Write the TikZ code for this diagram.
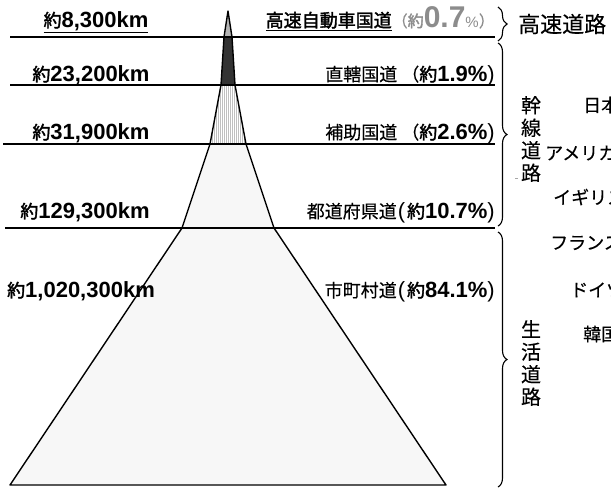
\documentclass[tikz,border=0pt]{standalone}
\usepackage{fontspec}
\setmainfont{Noto Sans CJK JP}
\newfontfamily\jp{Noto Sans CJK JP}[FakeBold=0.3]
\newfontfamily\jpb{Noto Sans CJK JP}[FakeBold=2]
\newfontfamily\num{Liberation Sans}
\usetikzlibrary{decorations.pathreplacing}
\definecolor{segA}{HTML}{B4B4B4}
\definecolor{segB}{HTML}{333333}
\definecolor{segC}{HTML}{F7F7F7}
\definecolor{txtgray}{HTML}{8C8C8C}
\newcommand\jfs{\fontsize{18}{20}\selectfont}
\newcommand\nfs{\fontsize{22}{23}\selectfont}
\newcommand\km[1]{{\jpb 約}{\num\bfseries\nfs #1km}}
\newcommand\pct[1]{{\jpb 約}{\num\bfseries\nfs #1\%}}
\begin{document}
\begin{tikzpicture}[x=1pt,y=-1pt,
  hline/.style={line width=1.7pt},
  tri/.style={draw=black,line width=1.4pt,line join=round},
  lab/.style={inner sep=0pt,font=\jp\jfs},
  bracebox/.style={decorate,decoration={brace,amplitude=9pt},line width=1.1pt},
  vtext/.style={inner sep=0pt,font=\jp\fontsize{20}{22.5}\selectfont,align=center}]
\useasboundingbox (0,0) rectangle (611,491);
\clip (0,0) rectangle (611,491);
% pyramid fills
\fill[segC] (182,228) -- (274,228) -- (446,485) -- (10,485) -- cycle;
\fill[segC] (210,144) -- (246,144) -- (274,228) -- (182,228) -- cycle;
\fill[white] (221,85) -- (235,85) -- (246,144) -- (210,144) -- cycle;
\begin{scope}
  \clip (221,85) -- (235,85) -- (246,144) -- (210,144) -- cycle;
  \foreach \x in {200,202,...,256} \draw[gray!50,line width=0.35pt] (\x,85) -- (\x,144);
\end{scope}
\fill[segB] (224,37) -- (232,37) -- (235,85) -- (221,85) -- cycle;
\fill[segA] (228,11) -- (232,37) -- (224,37) -- cycle;
% horizontal lines
\draw[hline] (10,37) -- (495,37);
\draw[hline] (10,85) -- (495,85);
\draw[hline] (3,144) -- (495,144);
\draw[hline] (5,228) -- (495,228);
% pyramid outline
\draw[tri] (228,11) -- (232,37) -- (235,85) -- (246,144) -- (274,228) -- (446,485)
  -- (10,485) -- (182,228) -- (210,144) -- (221,85) -- (224,37) -- cycle;
\draw[tri] (210,144) -- (246,144);
\draw[tri] (182,228) -- (274,228);
% left labels
\node[lab,anchor=base] (l1) at (96,27) {\underline{\km{8,300}}};
\node[lab,anchor=base] (l2) at (91,81) {\km{23,200}};
\node[lab,anchor=base] (l3) at (91,139) {\km{31,900}};
\node[lab,anchor=base] (l4) at (85,218) {\km{129,300}};
\node[lab,anchor=base west] (l5) at (7,297) {\km{1,020,300}};
% right labels
\node[lab,anchor=base east] (r1) at (495,27) {\underline{\jpb 高速自動車国道}{\color{txtgray}{\fontsize{16}{16}\selectfont（\jpb 約}{\num\bfseries\fontsize{30}{30}\selectfont 0.7}{\num\fontsize{15}{15}\selectfont\%}{\fontsize{16}{16}\selectfont ）}}};
\node[lab,anchor=base east] (r2) at (495,81) {直轄国道 （\pct{1.9}{\num\nfs)}};
\node[lab,anchor=base east] (r3) at (495,139) {補助国道 （\pct{2.6}{\num\nfs)}};
\node[lab,anchor=base east] (r4) at (495,218) {都道府県道{\num\nfs\hspace{1pt}(\hspace{2pt}}\pct{10.7}{\num\nfs)}};
\node[lab,anchor=base east] (r5) at (495,297) {市町村道{\num\nfs\hspace{1pt}(\hspace{2pt}}\pct{84.1}{\num\nfs)}};
% braces
\draw[bracebox] (498,7) -- (498,41);
\draw[bracebox] (498,43) -- (498,226);
\draw[bracebox] (498,232) -- (498,487);
\node[inner sep=0pt,anchor=west,font=\jp\fontsize{22}{24}\selectfont] (hw) at (518,24) {高速道路};
\node[vtext] (kansen) at (531,139) {幹\\線\\道\\路};
\node[vtext] (seikatsu) at (531,363) {生\\活\\道\\路};
\draw[gray!70,line width=0.6pt] (515,178) -- (518,178);
% countries (cut off at the right edge, as in the reference)
\node[lab,anchor=west] (c1) at (583,105) {日本};
\node[lab,anchor=west] (c2) at (545,153) {アメリカ};
\node[lab,anchor=west] (c3) at (553,197) {イギリス};
\node[lab,anchor=west] (c4) at (550,243) {フランス};
\node[lab,anchor=west] (c5) at (570,290) {ドイツ};
\node[lab,anchor=west] (c6) at (583,334) {韓国};
\end{tikzpicture}
\end{document}
